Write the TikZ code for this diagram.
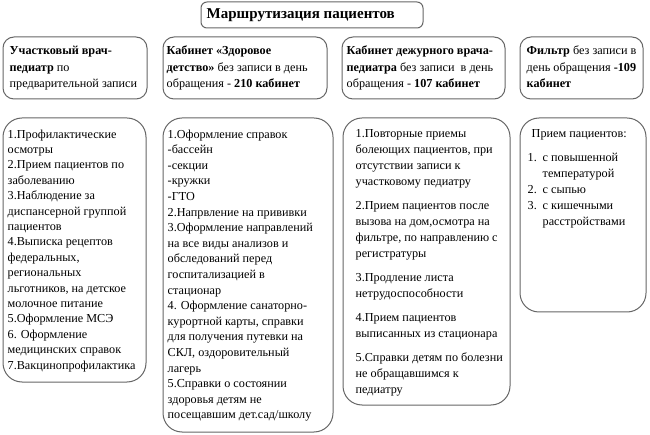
\documentclass[tikz,border=0pt]{standalone}
\usepackage{fontspec}
\setmainfont{Liberation Serif}
\usetikzlibrary{positioning}

\begin{document}
\begin{tikzpicture}[x=1pt,y=-1pt,
  pbox/.style={draw=black!60, line width=1pt, rounded corners=11pt, inner sep=0pt},
  lowbox/.style={pbox, rounded corners=19pt},
  txt/.style={inner sep=0pt, align=left, font=\fontsize{12.2}{16}\selectfont}]
  \useasboundingbox (0,0) rectangle (650,435);
  % title
  \node[pbox, rounded corners=6pt, minimum width=222pt, minimum height=26pt] (title) at (312,15) {};
  \node[inner sep=0pt, font=\fontsize{15}{16}\selectfont\bfseries, right=6pt of title.west] (titlex) {Маршрутизация пациентов};
  % upper row
  \node[pbox, minimum width=144pt, minimum height=62pt] (t1) at (75,68) {};
  \node[pbox, minimum width=164pt, minimum height=62pt] (t2) at (245,68) {};
  \node[pbox, minimum width=163pt, minimum height=62pt] (t3) at (423.5,68) {};
  \node[pbox, minimum width=123pt, minimum height=62pt] (t4) at (581.5,68) {};
  \node[txt, font=\fontsize{12.2}{16.5}\selectfont, below right=9.5pt and 7pt of t1.north west] (t1x)
    {\textbf{Участковый врач-}\\\textbf{педиатр} по\\предварительной записи};
  \node[txt, font=\fontsize{12.2}{16.5}\selectfont, below right=9.5pt and 4pt of t2.north west] (t2x)
    {\textbf{Кабинет «Здоровое}\\\textbf{детство»} без записи в день\\обращения - \textbf{210 кабинет}};
  \node[txt, font=\fontsize{12.2}{16.5}\selectfont, below right=9.5pt and 5pt of t3.north west] (t3x)
    {\textbf{Кабинет дежурного врача-}\\\textbf{педиатра} без записи\ \ в день\\обращения - \textbf{107 кабинет}};
  \node[txt, font=\fontsize{12.2}{16.5}\selectfont, below right=9.5pt and 7pt of t4.north west] (t4x)
    {\textbf{Фильтр} без записи в\\день обращения \textbf{-109}\\\textbf{кабинет}};
  % lower row
  \node[lowbox, minimum width=143pt, minimum height=264pt] (b1) at (74.5,250) {};
  \node[lowbox, minimum width=170pt, minimum height=314pt] (b2) at (248,275) {};
  \node[lowbox, minimum width=167pt, minimum height=287pt] (b3) at (426.5,261.5) {};
  \node[lowbox, minimum width=126pt, minimum height=194pt] (b4) at (583,215) {};
  \node[txt, font=\fontsize{12.2}{15.4}\selectfont, below right=12pt and 5pt of b1.north west] (b1x)
    {1.Профилактические\\осмотры\\2.Прием пациентов по\\заболеванию\\3.Наблюдение за\\диспансерной группой\\пациентов\\
     4.Выписка рецептов\\федеральных,\\региональных\\льготников, на детское\\молочное питание\\5.Оформление МСЭ\\
     6. Оформление\\медицинских справок\\7.Вакцинопрофилактика};
  \node[txt, font=\fontsize{12.2}{15.6}\selectfont, below right=12pt and 5pt of b2.north west] (b2x)
    {1.Оформление справок\\-бассейн\\-секции\\-кружки\\-ГТО\\2.Напрвление на прививки\\3.Оформление направлений\\
     на все виды анализов и\\обследований перед\\госпитализацией в\\стационар\\4. Оформление санаторно-\\
     курортной карты, справки\\для получения путевки на\\СКЛ, оздоровительный\\лагерь\\5.Справки о состоянии\\
     здоровья детям не\\посещавшим дет.сад/школу};
  \node[txt, below right=12pt and 13pt of b3.north west] (b3x)
    {1.Повторные приемы\\болеющих пациентов, при\\отсутствии записи к\\участковому педиатру\\[8pt]
     2.Прием пациентов после\\вызова на дом,осмотра на\\фильтре, по направлению с\\регистратуры\\[8pt]
     3.Продление листа\\нетрудоспособности\\[8pt]4.Прием пациентов\\выписанных из стационара\\[8pt]
     5.Справки детям по болезни\\не обращавшимся к\\педиатру};
  \node[txt, below right=12pt and 8pt of b4.north west] (b4x)
    {\hspace*{4pt}Прием пациентов:\\[8pt]\makebox[15pt][l]{1.}с повышенной\\\hspace*{15pt}температурой\\
     \makebox[15pt][l]{2.}с сыпью\\\makebox[15pt][l]{3.}с кишечными\\\hspace*{15pt}расстройствами};
\end{tikzpicture}
\end{document}
